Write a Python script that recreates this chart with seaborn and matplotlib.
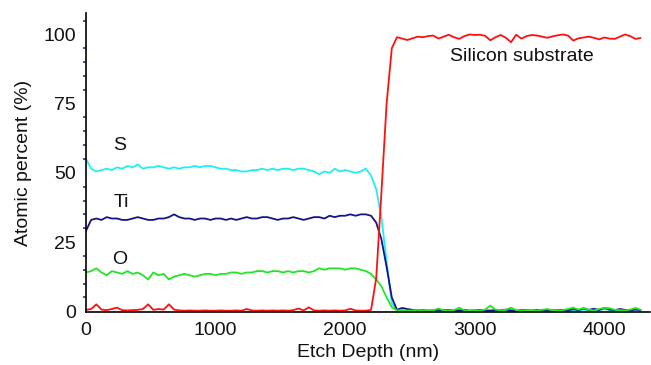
import matplotlib
matplotlib.use("Agg")
import matplotlib.pyplot as plt
from matplotlib.ticker import MultipleLocator
import seaborn as sns
import pandas as pd

# ---- data ----
depth = list(range(0, 4281, 40))  # etch depth (nm), 108 points

sulfur = [55, 51.5, 50.5, 51, 51.5, 51, 52, 51.5, 52.5, 52,
          53, 51.5, 52, 52, 52.5, 52, 51.5, 52, 51.5, 52,
          52, 52.5, 52, 52.5, 52.5, 52, 51.5, 51.5, 51, 51,
          50.5, 50.5, 51, 51, 51.5, 51, 51.5, 51, 51.5, 51.5,
          51, 51.5, 51.5, 51, 50.5, 49.5, 50.5, 50, 51.5, 50.5,
          51, 50.5, 50, 50.5, 51.5, 49, 44, 34, 18, 3,
          0.4,
          0.3, 0.2, 0.4, 0.2, 0.3, 0.1, 0.3, 0.2, 0.4, 0.3,
          0.2, 0.3, 0.5, 0.2, 0.3, 0.2, 0.1, 0.3, 0.4, 0.2,
          0.3, 0.2, 0.2, 0.4, 0.3, 0.2, 0.3, 0.2, 0.3, 0.5,
          0.3, 0.2, 0.4, 0.3, 0.2, 0.6, 0.4, 0.3, 0.5, 0.8,
          0.4, 0.3, 0.6, 0.4, 0.3, 0.7, 0.5]

titanium = [29, 33, 33.5, 33, 34, 33.5, 33.5, 33, 33, 33.5,
            34, 33.5, 33, 33, 33.5, 33.5, 34, 35, 34, 33.5,
            33.5, 33, 33.5, 33.5, 33, 33.5, 33.5, 33, 33.5, 33,
            33.5, 34, 33.5, 33.5, 34, 34, 33.5, 33, 33.5, 33.5,
            34, 33.5, 33, 33.5, 34, 34, 33.5, 34.5, 34, 34.5,
            34.5, 35, 34.5, 35, 35, 34.5, 32, 26, 16, 5,
            0.5,
            1.2, 0.8, 0.5, 0.3, 0.4, 0.2, 0.3, 0.5, 0.3, 0.4,
            0.2, 0.3, 0.4, 0.2, 0.3, 0.5, 0.3, 0.2, 0.4, 0.3,
            0.6, 0.3, 0.2, 0.4, 0.3, 0.2, 0.5, 0.3, 0.4, 0.2,
            0.3, 0.5, 0.3, 0.8, 0.4, 1.0, 0.5, 0.9, 0.4, 1.2,
            0.6, 0.4, 0.8, 0.5, 0.3, 0.6, 0.4]

oxygen = [14, 14.5, 15.5, 14, 13, 14.5, 14, 13.5, 14.5, 13.5,
          14, 13, 11.5, 14, 13, 13.5, 11.5, 12.5, 13, 13.5,
          13, 12.5, 13, 13.5, 13.5, 13, 13.5, 13.5, 14, 14,
          13.5, 14, 14, 14.5, 14.5, 14, 14.5, 14.5, 14, 14.5,
          14, 14.5, 14.5, 14, 14.5, 15.5, 15, 15.5, 15.5, 15.5,
          15, 15.5, 15.5, 15, 14.5, 13.5, 11.5, 9, 5, 1.5,
          0.3,
          0.4, 0.2, 0.3, 0.5, 0.3, 0.4, 0.3, 1.0, 0.3, 0.2,
          0.4, 1.3, 0.3, 0.2, 0.4, 0.3, 0.6, 2.0, 0.6, 0.3,
          0.5, 1.3, 0.4, 0.3, 0.2, 0.4, 0.3, 0.5, 0.8, 0.3,
          0.2, 0.4, 0.8, 1.3, 0.6, 1.2, 0.5, 0.3, 0.8, 1.2,
          1.1, 0.5, 0.4, 0.3, 0.6, 1.2, 0.5]

silicon = [0.5, 0.8, 2.5, 0.6, 0.4, 0.8, 1.3, 0.4, 0.3, 0.4,
           0.5, 0.8, 2.5, 0.5, 0.8, 0.6, 2.5, 0.6, 0.3, 0.2,
           0.3, 0.2, 0.2, 0.3, 0.2, 0.2, 0.3, 0.2, 0.2, 0.3,
           0.2, 0.8, 0.3, 0.2, 0.3, 0.2, 0.3, 0.2, 0.3, 0.2,
           0.4, 1.0, 0.3, 1.4, 0.3, 0.2, 0.3, 0.2, 0.3, 0.2,
           0.3, 0.9, 0.3, 0.2, 0.2, 0.5, 12, 43, 75, 95,
           99,
           98.5, 98.0, 98.6, 99.2, 99.0, 99.4, 99.6, 98.5, 99.2, 99.9,
           99.0, 98.4, 99.4, 100, 99.8, 99.9, 99.5, 97.9, 99.0, 99.8,
           98.8, 97.2, 99.9, 98.5, 99.4, 99.8, 99.6, 99.2, 98.8, 99.3,
           99.7, 100, 99.6, 97.8, 98.6, 98.9, 99.2, 98.8, 98.2, 98.9,
           98.5, 98.4, 99.2, 100, 99.4, 98.4, 98.7]

series_names = ["S", "Ti", "O", "Si"]
series_colors = ["#22eeee", "#141488", "#22e622", "#ff1010"]

x_ticks = [0, 1000, 2000, 3000, 4000]
y_ticks = [0, 25, 50, 75, 100]

# ---- plot ----
sns.set_style("white")
plt.rcParams["font.family"] = ["Liberation Sans", "DejaVu Sans"]

df = pd.DataFrame({"depth": depth, "S": sulfur, "Ti": titanium,
                   "O": oxygen, "Si": silicon})

fig = plt.figure(figsize=(6.51, 3.65), dpi=100)
ax = fig.add_axes([0.132, 0.145, 0.866, 0.819])

for name, col in zip(series_names, series_colors):
    sns.lineplot(data=df, x="depth", y=name, color=col, linewidth=1.3,
                 ax=ax, legend=False)

ax.set_xlim(0, 4350)
ax.set_ylim(-0.3, 107.7)
ax.set_xticks(x_ticks)
ax.set_yticks(y_ticks)
ax.yaxis.set_minor_locator(MultipleLocator(5))

for s in ["top", "right"]:
    ax.spines[s].set_visible(False)
for s in ["left", "bottom"]:
    ax.spines[s].set_color("black")
    ax.spines[s].set_linewidth(1.2)

ax.tick_params(axis="y", which="major", length=2, width=1.2,
               color="#333377", labelsize=14, pad=5, labelcolor="#111111")
ax.tick_params(axis="y", which="minor", length=2, width=1.2,
               color="#333377", left=True)
ax.tick_params(axis="x", which="major", length=0, labelsize=14, pad=7,
               labelcolor="#111111")

ax.set_xlabel("Etch Depth (nm)", fontsize=14, color="#111111", labelpad=4)
ax.set_ylabel("Atomic percent (%)", fontsize=14, color="#111111", labelpad=8)

ax.text(262, 59.8, "S", fontsize=14, ha="center", va="center", color="#111111")
ax.text(277, 39.3, "Ti", fontsize=14, ha="center", va="center", color="#111111")
ax.text(262, 18.7, "O", fontsize=14, ha="center", va="center", color="#111111")
ax.text(3361, 91.9, "Silicon substrate", fontsize=14, ha="center",
        va="center", color="#111111")

fig.savefig("out.png", dpi=100)
